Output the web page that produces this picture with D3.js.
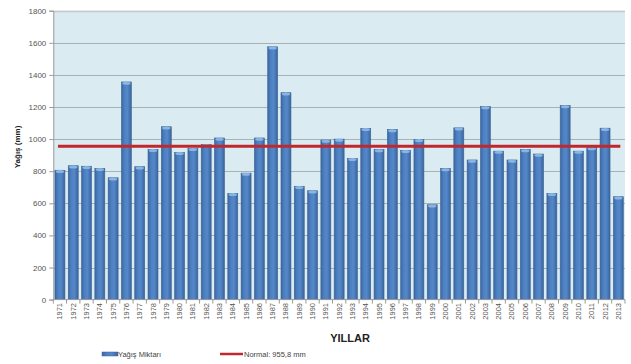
<!DOCTYPE html>
<html><head><meta charset="utf-8">
<script src="https://cdn.jsdelivr.net/npm/d3@7"></script>
<style>body{margin:0;background:#fff}svg{display:block}</style>
</head><body>
<svg id="c" width="631" height="364"></svg>
<script>
const years = ["1971","1972","1973","1974","1975","1976","1977","1978","1979","1980","1981","1982","1983","1984","1985","1986","1987","1988","1989","1990","1991","1992","1993","1994","1995","1996","1997","1998","1999","2000","2001","2002","2003","2004","2005","2006","2007","2008","2009","2010","2011","2012","2013"];
const rain = [806,834,831,818,759,1356,828,936,1077,917,942,966,1007,662,788,1007,1575,1289,706,678,994,1000,880,1067,935,1060,930,998,591,817,1070,870,1203,925,870,935,907,662,1209,925,947,1068,641];
const normal = 955.8;
const yTicks = [0,200,400,600,800,1000,1200,1400,1600,1800];
const legendLabels = ["Yağış Miktarı","Normal: 955,8 mm"];

const svg = d3.select("#c");
const L=53.3, R=625, T=10.7, B=299.6;
const x = d3.scaleBand().domain(years).range([L,R]).paddingInner(0.25).paddingOuter(0.125);
const y = d3.scaleLinear().domain([0,1800]).range([B,T]);
const font = "'Liberation Sans', Arial, sans-serif";

const defs = svg.append("defs");
const g1 = defs.append("linearGradient").attr("id","bar").attr("x1",0).attr("x2",1).attr("y1",0).attr("y2",0);
[[0,"#3b66a0"],[0.3,"#4d80c2"],[0.6,"#5488c9"],[1,"#3a649c"]].forEach(([o,c])=>g1.append("stop").attr("offset",o).attr("stop-color",c));

svg.append("rect").attr("x",L).attr("y",T).attr("width",R-L).attr("height",B-T).attr("fill","#daecf2");

svg.append("g").selectAll("line").data(yTicks.filter(d=>d>0)).join("line")
  .attr("x1",L).attr("x2",R).attr("y1",d=>Math.round(y(d))+0.5).attr("y2",d=>Math.round(y(d))+0.5)
  .attr("stroke",d=>d===1800?"#c8c8c8":"#a9b1b5").attr("stroke-width",d=>d===1800?1.5:1);

const ya = svg.append("g").attr("transform",`translate(${L},0)`)
  .call(d3.axisLeft(y).tickValues(yTicks).tickFormat(d3.format("d")).tickSize(4).tickPadding(3));
ya.select(".domain").attr("stroke","#9a9a9a");
ya.selectAll(".tick line").attr("stroke","#9a9a9a");
ya.selectAll("text").attr("font-family",font).attr("font-size",8).attr("fill","#555");

const bars = svg.append("g").selectAll("g").data(years).join("g");
bars.append("rect")
  .attr("x",d=>x(d)).attr("width",x.bandwidth())
  .attr("y",(d,i)=>y(rain[i])).attr("height",(d,i)=>B-y(rain[i]))
  .attr("fill","url(#bar)").attr("stroke","#3c6496").attr("stroke-width",0.6);
bars.append("ellipse")
  .attr("cx",d=>x(d)+x.bandwidth()/2).attr("cy",(d,i)=>y(rain[i])+1.2)
  .attr("rx",x.bandwidth()/2-0.8).attr("ry",1.5).attr("fill","#8ab4e2");

svg.append("line").attr("x1",L).attr("x2",R).attr("y1",B).attr("y2",B).attr("stroke","#9a9a9a");
const bounds = years.map(d=>x(d)-x.step()*x.paddingInner()/2).concat([R]);
svg.append("g").selectAll("line").data(bounds).join("line")
  .attr("x1",d=>d).attr("x2",d=>d).attr("y1",B).attr("y2",B+4).attr("stroke","#9a9a9a");
svg.append("g").selectAll("text").data(years).join("text")
  .attr("transform",d=>`translate(${x(d)+x.bandwidth()/2+2.5},${303}) rotate(-90)`)
  .attr("text-anchor","end").attr("font-family",font).attr("font-size",7.5).attr("fill","#555").text(d=>d);

svg.append("line")
  .attr("x1",x(years[0])+x.bandwidth()/2-2).attr("x2",x(years[years.length-1])+x.bandwidth()/2+2)
  .attr("y1",y(normal)).attr("y2",y(normal)).attr("stroke","#c0282d").attr("stroke-width",3);

svg.append("text").attr("transform","translate(20,147) rotate(-90)").attr("text-anchor","middle")
  .attr("font-family",font).attr("font-weight","bold").attr("font-size",8).attr("fill","#222").text("Yağış (mm)");
svg.append("text").attr("x",350).attr("y",342).attr("text-anchor","middle")
  .attr("font-family",font).attr("font-weight","bold").attr("font-size",11).attr("fill","#222").text("YILLAR");

const lg = svg.append("g");
lg.append("rect").attr("x",102).attr("y",352).attr("width",16).attr("height",4).attr("fill","url(#bar)").attr("stroke","#3c6496").attr("stroke-width",0.5);
lg.append("text").attr("x",118).attr("y",357).attr("font-family",font).attr("font-size",7.5).attr("fill","#444").text(legendLabels[0]);
lg.append("line").attr("x1",220).attr("x2",243).attr("y1",354).attr("y2",354).attr("stroke","#c0282d").attr("stroke-width",2.5);
lg.append("text").attr("x",244).attr("y",357).attr("font-family",font).attr("font-size",7.5).attr("fill","#444").text(legendLabels[1]);
</script>
</body></html>
